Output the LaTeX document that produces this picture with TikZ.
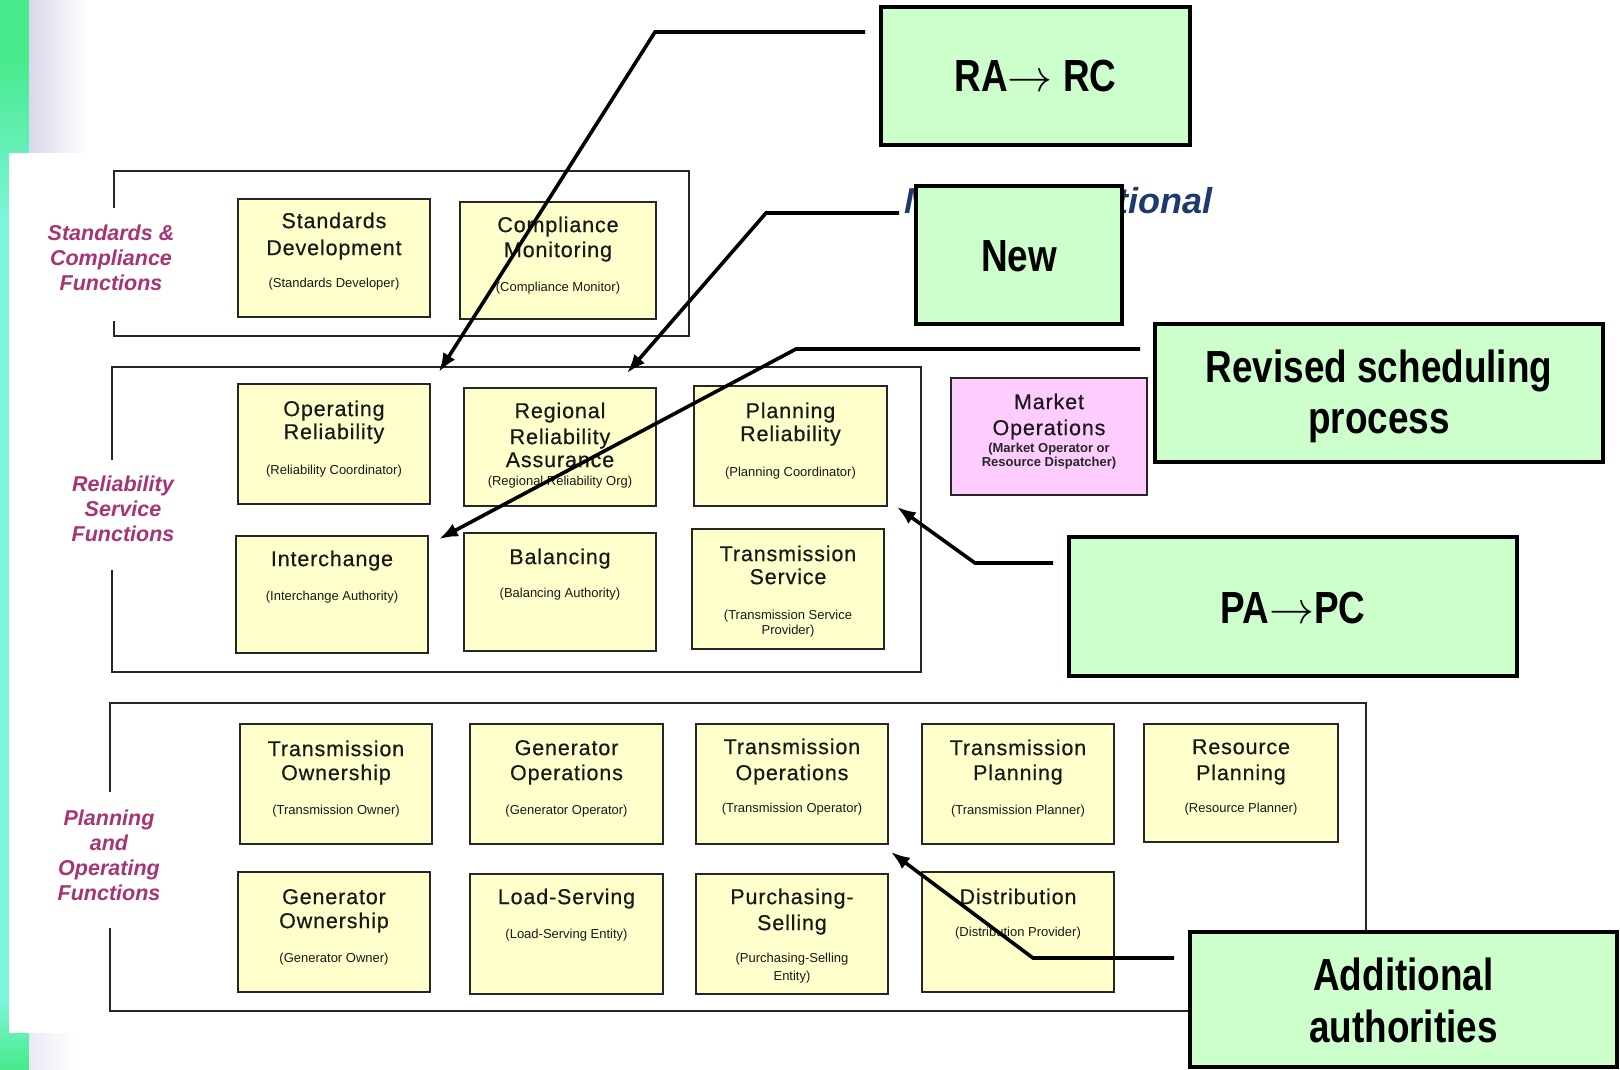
\RequirePackage{fix-cm}
\documentclass[tikz,border=0pt]{standalone}
\usepackage{fontspec}
\setmainfont{Liberation Sans}
\newfontfamily\ttlfont{Liberation Sans}[LetterSpace=4,FakeBold=0.5]
\newfontfamily\narrowfont{Liberation Sans}[FakeStretch=0.82]
\usetikzlibrary{arrows.meta,fit}

\definecolor{boxyellow}{RGB}{255,255,204}
\definecolor{boxpink}{RGB}{255,204,255}
\definecolor{callgreen}{RGB}{204,255,204}
\definecolor{plum}{RGB}{168,52,116}
\definecolor{headnavy}{RGB}{28,58,112}
\definecolor{stripgreen}{RGB}{72,234,140}
\definecolor{stripaqua}{RGB}{125,245,218}
\definecolor{lav}{RGB}{216,216,236}

\begin{document}
\begin{tikzpicture}[x=1pt,y=-1pt,
  fnbox/.style={draw=black!85, line width=1.8pt, fill=boxyellow, inner sep=0pt},
  mktbox/.style={fnbox, fill=boxpink},
  callbox/.style={draw=black, line width=3.5pt, fill=callgreen, inner sep=0pt},
  grpframe/.style={draw=black!85, line width=1.8pt},
  grplbl/.style={text=plum, inner sep=0pt, align=center,
    font=\fontsize{21.5}{25}\selectfont\bfseries\itshape},
  ln/.style 2 args={label={[font=\ttlfont\fontsize{21.5}{24}\selectfont,
    text=black!90, anchor=base, inner sep=0pt, yshift=-#1]north:{#2}}},
  sb/.style 2 args={label={[font=\fontsize{13}{15}\selectfont,
    text=black!90, anchor=base, inner sep=0pt, yshift=-#1]north:{#2}}},
  sbb/.style 2 args={label={[font=\fontsize{13}{15}\selectfont\bfseries,
    text=black!85, anchor=base, inner sep=0pt, yshift=-#1]north:{#2}}},
  cl/.style 2 args={label={[font=\narrowfont\bfseries\fontsize{45}{52}\selectfont,
    anchor=base, inner sep=0pt, yshift=-#1]north:{#2}}},
  callarrow/.style={line width=3.6pt, -{Latex[length=19pt,width=14pt]}}
]
\useasboundingbox (0,0) rectangle (1620,1069);

% page background with the coloured strip on the left
\fill[white] (0,0) rectangle (1620,1069);
\fill[stripgreen] (0,0) rectangle (29,60);
\shade[top color=stripgreen, bottom color=stripaqua] (0,59) rectangle (29,221);
\fill[stripaqua] (0,220) rectangle (29,1001);
\shade[top color=stripaqua, bottom color=stripgreen] (0,1000) rectangle (29,1069);
\shade[left color=lav, right color=white] (29,0) rectangle (88,153);
\shade[left color=lav!55, right color=white] (29,1033) rectangle (75,1069);
\fill[white] (9,153) rectangle (1620,1033);

% group frames, left side open for the group names
\draw[grpframe] (114,208) -- (114,171) -- (689,171) -- (689,336) -- (114,336) -- (114,321);
\draw[grpframe] (112,460) -- (112,367) -- (921,367) -- (921,672) -- (112,672) -- (112,570);
\draw[grpframe] (110,792) -- (110,703) -- (1366,703) -- (1366,1011) -- (110,1011) -- (110,928);

% group names
\node[grplbl] (lblstd) at (111,258) {Standards \&\\Compliance\\Functions};
\node[grplbl] (lblrel) at (123,509) {Reliability\\Service\\Functions};
\node[grplbl] (lblplan) at (109,855) {Planning\\and\\Operating\\Functions};

% standards & compliance functions
\node[fnbox, fit={(238,199) (430,317)},
  ln={30}{Standards}, ln={57}{Development}, sb={89}{(Standards Developer)}] (sd) {};
\node[fnbox, fit={(460,202) (656,319)},
  ln={31}{Compliance}, ln={56}{Monitoring}, sb={90}{(Compliance Monitor)}] (cm) {};

% reliability service functions
\node[fnbox, fit={(238,384) (430,504)},
  ln={33}{Operating}, ln={56}{Reliability}, sb={91}{(Reliability Coordinator)}] (oprel) {};
\node[fnbox, fit={(464,388) (656,506)},
  ln={31}{Regional}, ln={57}{Reliability}, ln={80}{Assurance},
  sb={98}{(Regional Reliability Org)}] (regrel) {};
\node[fnbox, fit={(694,386) (887,506)},
  ln={33}{Planning}, ln={56}{Reliability}, sb={91}{(Planning Coordinator)}] (planrel) {};
\node[fnbox, fit={(236,536) (428,653)},
  ln={31}{Interchange}, sb={65}{(Interchange Authority)}] (inter) {};
\node[fnbox, fit={(464,533) (656,651)},
  ln={32}{Balancing}, sb={65}{(Balancing Authority)}] (bal) {};
\node[fnbox, fit={(692,529) (884,649)},
  ln={33}{Transmission}, ln={56}{Service},
  sb={91}{(Transmission Service}, sb={106}{Provider)}] (tsvc) {};
\node[mktbox, fit={(951,378) (1147,495)},
  ln={32}{Market}, ln={58}{Operations},
  sbb={75}{(Market Operator or}, sbb={89}{Resource Dispatcher)}] (mktops) {};

% planning and operating functions
\node[fnbox, fit={(240,724) (432,844)},
  ln={33}{Transmission}, ln={57}{Ownership}, sb={91}{(Transmission Owner)}] (town) {};
\node[fnbox, fit={(470,724) (663,844)},
  ln={32}{Generator}, ln={57}{Operations}, sb={91}{(Generator Operator)}] (genops) {};
\node[fnbox, fit={(696,724) (888,844)},
  ln={31}{Transmission}, ln={57}{Operations}, sb={89}{(Transmission Operator)}] (tops) {};
\node[fnbox, fit={(922,724) (1114,844)},
  ln={32}{Transmission}, ln={57}{Planning}, sb={91}{(Transmission Planner)}] (tplan) {};
\node[fnbox, fit={(1144,724) (1338,842)},
  ln={31}{Resource}, ln={57}{Planning}, sb={89}{(Resource Planner)}] (rplan) {};
\node[fnbox, fit={(238,872) (430,992)},
  ln={33}{Generator}, ln={57}{Ownership}, sb={91}{(Generator Owner)}] (gown) {};
\node[fnbox, fit={(470,874) (663,994)},
  ln={31}{Load-Serving}, sb={65}{(Load-Serving Entity)}] (lse) {};
\node[fnbox, fit={(696,874) (888,994)},
  ln={31}{Purchasing-}, ln={57}{Selling},
  sb={89}{(Purchasing-Selling}, sb={107}{Entity)}] (pse) {};
\node[fnbox, fit={(922,872) (1114,992)},
  ln={33}{Distribution}, sb={65}{(Distribution Provider)}] (dist) {};

% heading partly hidden behind a callout
\node[anchor=base west, inner sep=0pt, text=headnavy,
  font=\fontsize{36}{40}\selectfont\bfseries\itshape] (mkthead) at (904,213) {Market Functional};

% callout connectors
\coordinate (raA) at (865,32);
\coordinate (raB) at (655,32);
\coordinate (raT) at ([shift={(8,-11)}]oprel.north east);
\coordinate (nwA) at (899,213);
\coordinate (nwB) at (766,213);
\coordinate (nwT) at ([shift={(67,-14)}]regrel.north);
\coordinate (rvA) at (1140,349);
\coordinate (rvB) at (796,349);
\coordinate (rvT) at ([shift={(10,4)}]inter.north east);
\coordinate (paA) at (1053,563);
\coordinate (paB) at (975,563);
\coordinate (paT) at ([shift={(9,0)}]planrel.south east);
\coordinate (adA) at (1174,958);
\coordinate (adB) at (1033,958);
\coordinate (adT) at ([shift={(2,7)}]tops.south east);

\draw[callarrow] (raA) -- (raB) -- (raT);
\draw[callarrow] (nwA) -- (nwB) -- (nwT);
\draw[callarrow] (rvA) -- (rvB) -- (rvT);
\draw[callarrow] (paA) -- (paB) -- (paT);
\draw[callarrow] (adA) -- (adB) -- (adT);

% callouts
\node[callbox, fit={(881,7) (1190,145)}, cl={86}{RA$\rightarrow$ RC}] (ra) {};
\node[callbox, fit={(916,186) (1122,324)}, cl={87}{New}] (nw) {};
\node[callbox, fit={(1155,324) (1603,462)},
  cl={60}{Revised scheduling}, cl={111}{process}] (rv) {};
\node[callbox, fit={(1069,537) (1517,676)}, cl={88}{PA$\rightarrow$PC}] (pa) {};
\node[callbox, fit={(1190,932) (1617,1067)},
  cl={60}{Additional}, cl={112}{authorities}] (ad) {};
\end{tikzpicture}
\end{document}
